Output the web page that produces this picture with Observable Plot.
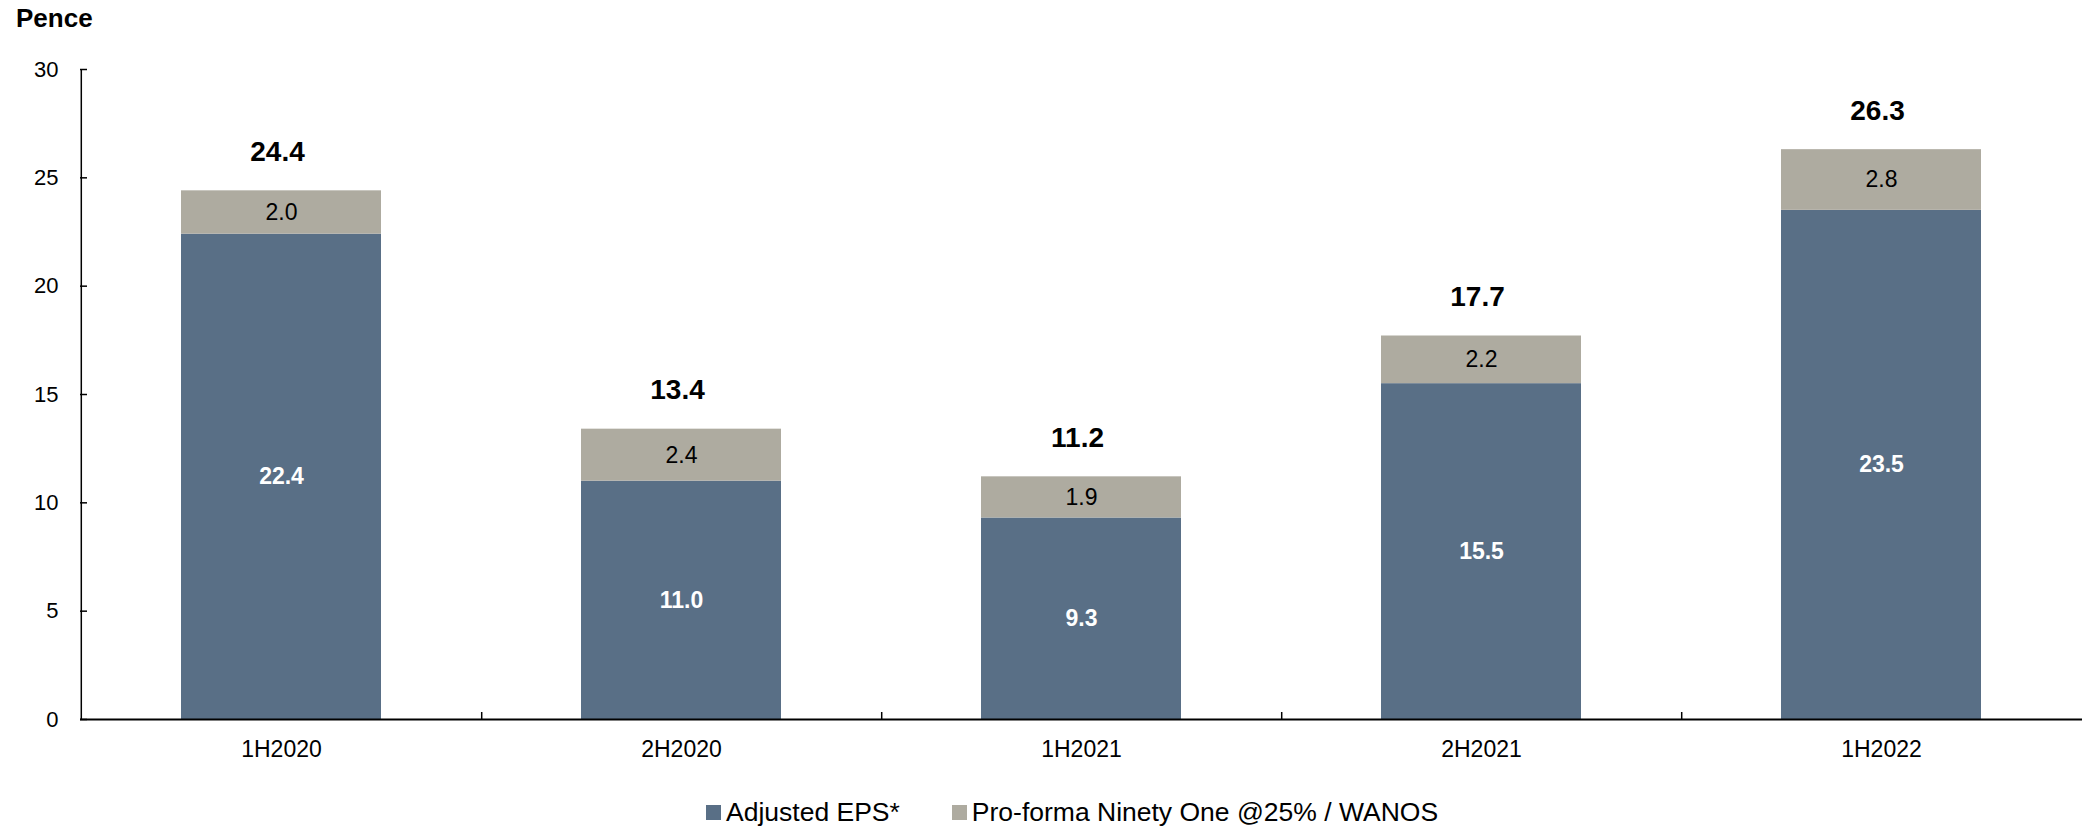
<!DOCTYPE html>
<html>
<head>
<meta charset="utf-8">
<script src="https://cdn.jsdelivr.net/npm/d3@7"></script>
<script src="https://cdn.jsdelivr.net/npm/@observablehq/plot@0.6"></script>
<style>
  html, body { margin: 0; padding: 0; background: #fff; }
  body { width: 2082px; height: 827px; overflow: hidden; font-family: "Liberation Sans", Arial, sans-serif; color: #000; }
  #unit { height: 36px; line-height: 36px; padding-left: 16px; font-size: 26px; font-weight: bold; }
  #legend { height: 31px; line-height: 31px; padding-left: 706px; font-size: 26.5px; white-space: nowrap; }
  .item { display: inline-flex; align-items: center; margin-right: 52px; }
  .swatch { width: 15px; height: 15px; margin-right: 5px; display: inline-block; }
</style>
</head>
<body>
<div id="unit">Pence</div>
<div id="chart"></div>
<div id="legend"></div>
<script>
// Half-year periods and earnings per share components (pence)
const periods = ["1H2020", "2H2020", "1H2021", "2H2021", "1H2022"];
const adjustedEps = [22.4, 11.0, 9.3, 15.5, 23.5];
const ninetyOne = [2.0, 2.4, 1.9, 2.2, 2.8];
const seriesNames = ["Adjusted EPS*", "Pro-forma Ninety One @25% / WANOS"];
const seriesColors = ["#596f86", "#aeaba0"];
const yTicks = [0, 5, 10, 15, 20, 25, 30];

// Long-format table for stacking: adjusted EPS at the base, Ninety One on top
const rows = periods.flatMap((period, i) => [
  {period, series: seriesNames[0], value: adjustedEps[i]},
  {period, series: seriesNames[1], value: ninetyOne[i]}
]);
const totals = periods.map((period, i) => ({period, total: +(adjustedEps[i] + ninetyOne[i]).toFixed(1)}));

const width = 2082, height = 760;
const marginLeft = 80, marginRight = 0, marginTop = 33, marginBottom = 77;
const step = (width - marginLeft - marginRight) / periods.length;
const font = "'Liberation Sans', Arial, sans-serif";

const chart = Plot.plot({
  width, height, marginLeft, marginRight, marginTop, marginBottom,
  style: {fontFamily: font, background: "#fff", color: "#000", overflow: "visible"},
  x: {domain: periods, paddingInner: 0.5, paddingOuter: 0.25, label: null},
  y: {domain: [0, 30], label: null},
  color: {domain: seriesNames, range: seriesColors},
  marks: [
    Plot.barY(rows, Plot.stackY({x: "period", y: "value", fill: "series"})),
    // segment values
    Plot.text(rows, Plot.stackY({
      x: "period", y: "value",
      text: d => d.series === seriesNames[0] ? d.value.toFixed(1) : null,
      fill: "#fff", fontWeight: "bold", fontSize: 23
    })),
    Plot.text(rows, Plot.stackY({
      x: "period", y: "value",
      text: d => d.series === seriesNames[1] ? d.value.toFixed(1) : null,
      fill: "#000", fontSize: 23
    })),
    // stack totals
    Plot.text(totals, {
      x: "period", y: "total", text: d => d.total.toFixed(1),
      lineAnchor: "bottom", dy: -30, dx: -4, fontWeight: "bold", fontSize: 28, fill: "#000"
    }),
    // y axis: line, inward ticks and labels
    Plot.ruleX([periods[0]], {y1: 0, y2: 30, dx: -step / 2, stroke: "#000", strokeWidth: 1.5}),
    Plot.axisY({ticks: yTicks, tickSize: -7, text: null, stroke: "#000", strokeWidth: 1.5}),
    Plot.axisY({ticks: yTicks, tickSize: 0, tickPadding: 22, fontSize: 22, fill: "#000"}),
    // x axis: baseline, separators between periods, labels
    Plot.ruleY([0], {stroke: "#000", strokeWidth: 2}),
    Plot.axisX(periods.slice(0, -1), {tickSize: -7, text: null, dx: step / 2, stroke: "#000", strokeWidth: 1.5}),
    Plot.axisX({tickSize: 0, tickPadding: 21, fontSize: 23, fill: "#000", label: null})
  ]
});
document.getElementById("chart").append(chart);

// legend
const legend = document.getElementById("legend");
seriesNames.forEach((name, i) => {
  const item = document.createElement("span");
  item.className = "item";
  const sw = document.createElement("span");
  sw.className = "swatch";
  sw.style.background = seriesColors[i];
  item.append(sw, document.createTextNode(name));
  legend.append(item);
});
</script>
</body>
</html>
